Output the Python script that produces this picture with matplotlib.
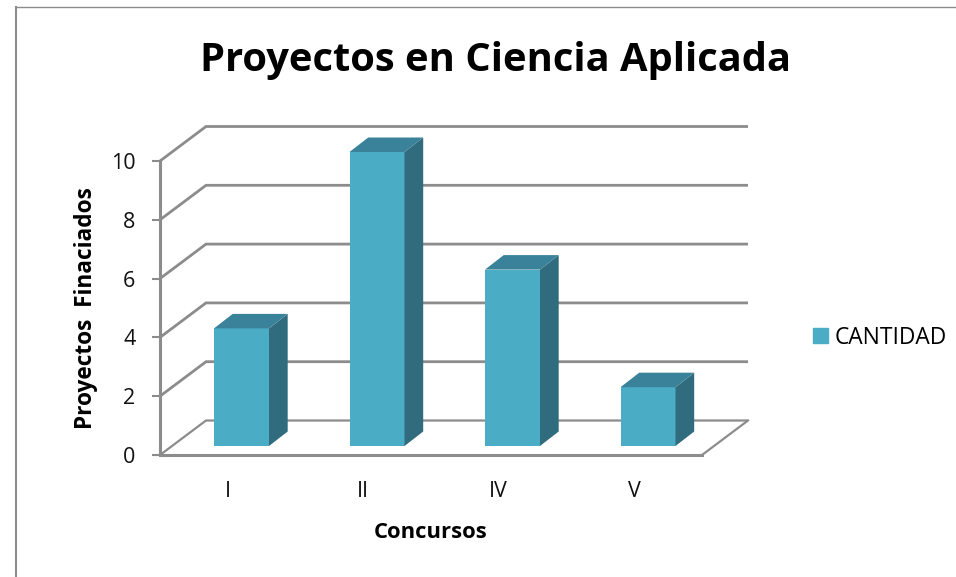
#!/usr/bin/env python3
# -*- coding: utf-8 -*-

import numpy as np
import matplotlib
matplotlib.use('Agg')
import matplotlib.pyplot as plt
from matplotlib.lines import Line2D
from matplotlib.patches import Patch

categories = ['I', 'II', 'IV', 'V']
cantidad = [4, 10, 6, 2]
y_ticks = [0, 2, 4, 6, 8, 10]

W, H = 956, 577
FRONT = '#4BACC6'
TOP = '#3A8299'
SIDE = '#306C7E'
GRID = '#8C8C8C'

plt.rcParams['font.family'] = ['Open Sans', 'DejaVu Sans']

fig = plt.figure(figsize=(W / 100, H / 100), dpi=100)
# plot box = front plane of the fake 3D chart
left, right, top, bottom = 160, 702, 161, 455
ax = fig.add_axes([left / W, 1 - bottom / H, (right - left) / W, (bottom - top) / H])
ax.set_xlim(-0.5, 3.5)
ax.set_ylim(0, 10)
ax.patch.set_visible(False)

px_x = (right - left) / 4       # pixels per category
px_y = (bottom - top) / 10      # pixels per unit
wall_dx, wall_dy = 46 / px_x, 34.5 / px_y
bar_off_x, bar_off_y = 13.75 / px_x, 9 / px_y
bar_dx, bar_dy = 18.7 / px_x, 14.5 / px_y
bar_w = 55 / px_x

# walls and gridlines
x0, x1 = ax.get_xlim()
for v in y_ticks:
    ax.plot([x0, x0 + wall_dx, x1 + wall_dx], [v, v + wall_dy, v + wall_dy],
            color=GRID, lw=2.0 if v else 1.6, clip_on=False, zorder=1,
            solid_joinstyle='miter', solid_capstyle='butt')
ax.plot([x1, x1 + wall_dx], [0, wall_dy], color=GRID, lw=1.6, clip_on=False, zorder=1)

# bars
xs = np.arange(len(categories)) + bar_off_x
ax.bar(xs, cantidad, width=bar_w, bottom=bar_off_y, color=FRONT, zorder=3, clip_on=False)
for x, v in zip(xs, cantidad):
    xr = x + bar_w / 2
    xl = x - bar_w / 2
    yb = bar_off_y
    yt = bar_off_y + v
    ax.fill([xr, xr + bar_dx, xr + bar_dx, xr], [yb, yb + bar_dy, yt + bar_dy, yt],
            color=SIDE, lw=0, zorder=3, clip_on=False)
    ax.fill([xl, xr, xr + bar_dx, xl + bar_dx], [yt, yt, yt + bar_dy, yt + bar_dy],
            color=TOP, lw=0, zorder=3, clip_on=False)

for s in ['top', 'right']:
    ax.spines[s].set_visible(False)
for s in ['left', 'bottom']:
    ax.spines[s].set_color(GRID)
    ax.spines[s].set_linewidth(2.2)
    ax.spines[s].set_zorder(2)

ax.set_xticks(range(len(categories)))
ax.set_xticklabels(categories)
ax.set_yticks(y_ticks)
ax.tick_params(axis='x', length=0, pad=19, labelsize=15.5, labelcolor='#111111')
ax.tick_params(axis='y', length=5.8, width=1.5, color=GRID, pad=12, labelsize=15.5, labelcolor='#111111')

fig.text(496 / W, 1 - 61 / H, 'Proyectos en Ciencia Aplicada', ha='center', va='center',
         fontsize=28.7, fontweight='bold', color='black')
fig.text(431 / W, 1 - 533 / H, 'Concursos', ha='center', va='center',
         fontsize=15.8, fontweight='bold', color='black')
fig.text(86 / W, 1 - 308 / H, 'Proyectos  Finaciados', ha='center', va='center', rotation=90,
         fontsize=16.3, fontweight='bold', color='black')

fig.legend(handles=[Patch(color=FRONT, label='CANTIDAD')], loc='center left',
           bbox_to_anchor=(795 / W, 1 - 337.5 / H), frameon=False, fontsize=16.4,
           handlelength=0.66, handleheight=0.66, handletextpad=0.3, borderpad=0.3)

# chart area border, open at the right and the bottom
fig.add_artist(Line2D([16 / W, 16 / W], [0, 1 - 7 / H], color=GRID, lw=1.5))
fig.add_artist(Line2D([16 / W, 1], [1 - 7 / H, 1 - 7 / H], color=GRID, lw=1.0))

fig.savefig('out.png', dpi=100)
